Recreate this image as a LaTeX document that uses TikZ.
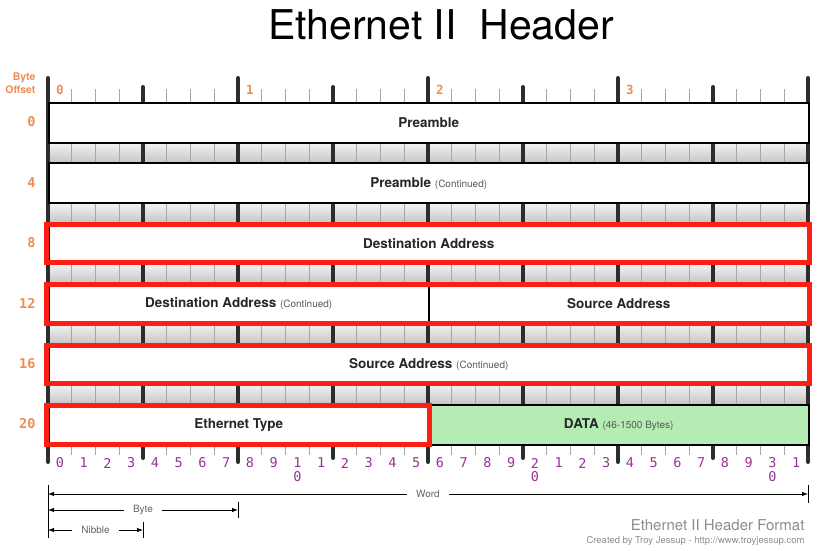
\documentclass[tikz,border=0pt]{standalone}
\usepackage{fontspec}
\setmainfont{TeX Gyre Heros}
\newfontfamily\monofam{DejaVu Sans Mono}
\usetikzlibrary{arrows.meta, calc}

\definecolor{offclr}{RGB}{240,140,80}
\definecolor{bitclr}{RGB}{150,50,150}
\definecolor{datagrn}{RGB}{180,236,180}
\definecolor{hilite}{RGB}{255,30,20}
\definecolor{barclr}{RGB}{45,45,45}

% the small grey remark after a field name
\newcommand\contd[1]{{\mdseries\fontsize{10}{12}\selectfont\color{black!65}#1}}

\begin{document}
\begin{tikzpicture}[
  % one unit is one pixel of the original; y runs downwards
  x=1pt, y=-1pt, font=\fontsize{13.5}{16}\selectfont,
  fld/.style={draw=black, line width=1.5pt, fill=white, anchor=north west, inner sep=0pt,
    minimum height=40pt, minimum width=#1, text=black!85, font=\bfseries\fontsize{13.5}{16}\selectfont},
  fld/.default=760pt,
  hl/.style={draw=hilite, line width=5pt},
  tick/.style={gray!70, line width=0.9pt},
  bytebar/.style={barclr, line width=4pt, line cap=round},
  offlbl/.style={anchor=east, text=offclr, font=\monofam\bfseries\fontsize{13.5}{16}\selectfont},
  bytelbl/.style={text=offclr, font=\monofam\bfseries\fontsize{12.5}{15}\selectfont},
  bitlbl/.style={text=bitclr, font=\monofam\fontsize{13.5}{16}\selectfont, inner sep=0pt},
  dim/.style={{Latex[length=6pt,width=4.5pt]}-{Latex[length=6pt,width=4.5pt]}, line width=0.8pt},
  dimbar/.style={line width=0.8pt},
  dimlbl/.style={fill=white, inner xsep=9pt, inner ysep=1pt, text=black!60, font=\fontsize{10}{12}\selectfont},
]
\useasboundingbox (0,0) rectangle (823,550);
% title
\node[anchor=base, font=\fontsize{41}{48}\selectfont] (title) at (441,39) {Ethernet II\ \ Header};
\node[anchor=east, align=right, text=offclr, font=\bfseries\fontsize{10.5}{13}\selectfont] (offhead) at (39,83) {Byte\\Offset};
% grey bit strips between the rows
\foreach \t in {142,202.4,262.8,323.2,383.6}
  \shade[top color=gray!8, bottom color=gray!45] (48,\t) rectangle (808,\t+20.4);
% ruler: bits, nibbles, bytes
\foreach \i in {1,...,31} \draw[tick] (48+23.75*\i,89) -- (48+23.75*\i,455);
\foreach \k in {0,...,3} \draw[bytebar] (143+190*\k,87) -- (143+190*\k,458);
\foreach \k in {0,...,4} \draw[bytebar] (48+190*\k,78) -- (48+190*\k,462);
\foreach \k in {0,...,3} \node[bytelbl] (byte\k) at (60+190*\k,90) {\k};
% rows
\node[fld] (pre0) at (48,102) {Preamble};
\node[fld] (pre4) at (48,162.4) {Preamble \contd{(Continued)}};
\node[fld] (dst8) at (48,222.8) {Destination Address};
\node[fld=380pt] (dst12) at (48,283.2) {Destination Address \contd{(Continued)}};
\node[fld=380pt] (src12) at (428,283.2) {Source Address};
\node[fld] (src16) at (48,343.6) {Source Address \contd{(Continued)}};
\node[fld=380pt] (etype) at (48,404) {Ethernet Type};
\node[fld=380pt, fill=datagrn] (data) at (428,404) {DATA \contd{(46-1500 Bytes)}};
\foreach \o/\y in {0/122,4/182.4,8/242.8,12/303.2,16/363.6,20/424}
  \node[offlbl] (off\o) at (39,\y) {\o};
% the address and type fields
\draw[hl] ($(dst8.north west)+(-1.5,1.5)$) rectangle ($(dst8.south east)+(0,-1.5)$);
\draw[hl] ($(dst12.north west)+(-1.5,1.5)$) rectangle ($(src12.south east)+(0,-1.5)$);
\draw[hl] ($(src16.north west)+(-1.5,1.5)$) rectangle ($(src16.south east)+(0,-1.5)$);
\draw[hl] ($(etype.north west)+(-1.5,1.5)$) rectangle ($(etype.south east)+(0,-1.5)$);
% bit numbers
\foreach \i in {0,...,31}{
  \pgfmathtruncatemacro\dig{(\i>0 && mod(\i,10)==0) ? \i/10 : mod(\i,10)}
  \node[bitlbl] (bit\i) at (59.875+23.75*\i,463) {\dig};
}
\foreach \i in {10,20,30} \node[bitlbl] (bitlo\i) at (59.875+23.75*\i,477) {0};
% word, byte, nibble
\coordinate (dimtop) at (48,485);
\coordinate (dimbot) at (48,538);
\draw[dimbar] (dimtop) -- (dimbot);
\coordinate (wordL) at (48,494);
\coordinate (wordR) at (808,494);
\coordinate (byteL) at (48,510);
\coordinate (byteR) at (238,510);
\coordinate (nibL) at (48,530);
\coordinate (nibR) at (143,530);
\draw[dimbar] ($(wordR)+(0,-9)$) -- ($(wordR)+(0,9)$);
\draw[dimbar] ($(byteR)+(0,-8)$) -- ($(byteR)+(0,8)$);
\draw[dimbar] ($(nibR)+(0,-8)$) -- ($(nibR)+(0,8)$);
\draw[dim] (wordL) -- node[dimlbl] (wordlbl) {Word} (wordR);
\draw[dim] (byteL) -- node[dimlbl] (bytelbl) {Byte} (byteR);
\draw[dim] (nibL) -- node[dimlbl] (niblbl) {Nibble} (nibR);
% credit
\node[anchor=base east, text=black!45, font=\fontsize{15}{18}\selectfont] (ftitle) at (808,530) {Ethernet II Header Format};
\node[anchor=base east, text=black!45, font=\fontsize{9.5}{11}\selectfont] (fcredit) at (808,543) {Created by Troy Jessup - http://www.troyjessup.com};
\end{tikzpicture}
\end{document}
